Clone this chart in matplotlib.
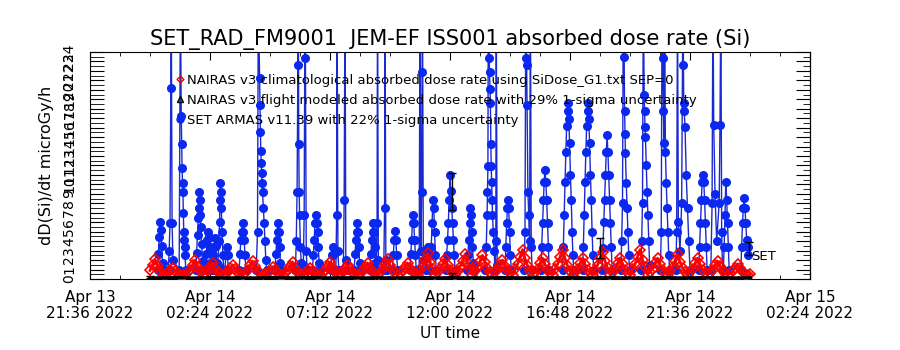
import matplotlib
matplotlib.use('Agg')
import matplotlib.pyplot as plt
from matplotlib.lines import Line2D
from matplotlib.ticker import MultipleLocator, FixedLocator
import numpy as np

plt.rcParams['font.family'] = ['DejaVu Sans']
narrow = ['Liberation Sans Narrow', 'DejaVu Sans Condensed', 'DejaVu Sans']

# x axis: minutes since 2022-04-14 00:00 UT
tick_min = [-144, 144, 432, 720, 1008, 1296, 1584]
tick_lbl = ['Apr 13\n21:36 2022', 'Apr 14\n02:24 2022', 'Apr 14\n07:12 2022',
            'Apr 14\n12:00 2022', 'Apr 14\n16:48 2022', 'Apr 14\n21:36 2022',
            'Apr 15\n02:24 2022']

# NAIRAS v3 climatological dose rate, one value every 6 min from 00:00
red_v = [0.9, 1.5,
         2.1, 1.37, 0.84, 0.4, 0.46, 0.6, 0.9,
         1.2, 0.84, 0.54, 0.4, 0.4, 0.4, 0.7, 1.0, 1.5,
         2.0, 1.3, 0.8, 0.4, 0.61, 0.85, 1.28,
         1.7, 1.19, 0.77, 0.53, 0.4, 0.55, 0.75, 1.13,
         1.5, 1.05, 0.68, 0.48, 0.4, 0.67, 0.95, 1.43,
         1.9, 1.33, 0.86, 0.58, 0.4, 0.49, 0.65, 0.98,
         1.3, 0.91, 0.59, 0.43, 0.4, 0.64, 0.9, 1.35,
         1.8, 1.17, 0.72, 0.4, 0.46, 0.6, 0.9,
         1.2, 0.84, 0.54, 0.4, 0.4, 0.64, 0.9, 1.35,
         1.8, 1.17, 0.72, 0.4, 0.55, 0.75, 1.13,
         1.5, 1.05, 0.68, 0.48, 0.4, 0.61, 0.85, 1.28,
         1.7, 1.19, 0.77, 0.53, 0.4, 0.73, 1.05, 1.58,
         2.1, 1.47, 0.95, 0.63, 0.4, 0.61, 0.85, 1.28,
         1.7, 1.19, 0.77, 0.53, 0.4, 0.91, 1.35, 2.03,
         2.7, 1.76, 1.08, 0.45, 0.73, 1.05, 1.58,
         2.1, 1.47, 0.95, 0.63, 0.4, 0.88, 1.3, 1.95,
         2.6, 1.69, 1.04, 0.45, 0.85, 1.25, 1.88,
         2.5, 1.75, 1.13, 0.73, 0.4, 0.7, 1.0, 1.5,
         2.0, 1.4, 0.9, 0.6, 0.4, 1.03, 1.55, 2.33,
         3.1, 2.17, 1.4, 0.88, 0.45, 0.76, 1.1, 1.65,
         2.2, 1.54, 0.99, 0.65, 0.4, 1.03, 1.55, 2.33,
         3.1, 2.17, 1.4, 0.88, 0.45, 0.76, 1.1, 1.65,
         2.2, 1.54, 0.99, 0.65, 0.4, 0.97, 1.45, 2.18,
         2.9, 1.89, 1.16, 0.45, 0.76, 1.1, 1.65,
         2.2, 1.54, 0.99, 0.65, 0.4, 1.03, 1.55, 2.33,
         3.1, 2.02, 1.24, 0.45, 0.76, 1.1, 1.65,
         2.2, 1.54, 0.99, 0.65, 0.4, 0.88, 1.3, 1.95,
         2.6, 1.82, 1.17, 0.75, 0.4, 0.76, 1.1, 1.65,
         2.2, 1.54, 0.99, 0.65, 0.4, 0.67, 0.95, 1.43,
         1.9, 1.33, 0.86, 0.58, 0.4, 0.58, 0.8, 1.2,
         1.6, 1.12, 0.72, 0.5, 0.4, 0.5]

# NAIRAS v3 flight modeled dose rate, one value every 30 min
blk_v = [0.12, 0.1, 0.14, 0.09, 0.11, 0.13, 0.1, 0.12, 0.09, 0.11,
         0.13, 0.1, 0.12, 0.14, 0.1, 0.11, 0.12, 0.09, 0.13, 0.11,
         0.1, 0.12, 0.14, 0.1, 0.13, 0.11, 0.12, 0.1, 0.14, 0.12,
         0.1, 0.13, 0.11, 0.12, 0.14, 0.1, 0.12, 0.13, 0.11, 0.1,
         0.12, 0.14, 0.11, 0.1, 0.13, 0.12, 0.11, 0.1, 0.12]

# SET ARMAS dose rate (minutes since 00:00, microGy/h)
blue_t = [18, 20, 22, 24, 26, 28, 30, 31,
          44, 46, 48, 50, 51, 53, 55,
          70, 73, 75, 76, 77, 78, 79, 80, 81, 82, 83, 84, 86,
          110, 112, 114, 116, 117, 118, 120, 121, 122, 124, 126, 128,
          133, 135, 137, 139, 141, 143, 145, 147,
          150, 152, 154, 156, 158, 160, 162,
          163, 165, 167, 168, 169, 170, 171, 173, 175, 177,
          180, 182, 184, 186, 188,
          214, 216, 218, 220, 222, 224, 226, 228, 230,
          255, 258, 260, 263, 264, 265, 266, 267, 268, 269, 270, 272, 274, 276, 278, 280,
          300, 302, 304, 306, 307, 309, 311, 313, 315,
          349, 351, 353, 355, 356, 357, 358, 359, 361, 363,
          368, 370, 372, 373, 375, 377,
          390, 392, 394, 396, 398, 400, 402, 404, 406, 408,
          434, 436, 438, 440, 442,
          446, 448, 449, 451, 453,
          464, 466, 468, 470, 472,
          490, 492, 494, 496, 497, 499, 501, 503, 505,
          528, 530, 532, 534, 535, 537, 539, 541, 543,
          545, 546, 548,
          561, 563, 564, 566, 568,
          582, 584, 586, 588, 590, 592, 594,
          624, 626, 628, 630, 631, 633, 635, 637, 639,
          646, 648, 650, 652, 653, 654, 656,
          663, 665, 667, 669, 671,
          673, 675, 677, 679, 681, 683, 685, 687,
          710, 712, 714, 716, 718, 720, 722, 724, 726, 728, 730, 732,
          761, 763, 765, 767, 768, 770, 772, 774, 776, 778,
          805, 807, 809, 810, 811, 812, 814, 815, 816, 817, 818, 819, 820, 821, 822, 824, 826, 828,
          830, 831, 833,
          852, 854, 856, 858, 859, 861, 863, 865, 867,
          898, 900, 902, 903, 904, 905, 907, 909, 911, 913, 915, 917,
          938, 940, 942, 944, 946, 948, 950, 952, 954, 956, 958,
          990, 992, 994, 996, 998, 1000, 1002, 1003, 1005, 1007, 1009, 1011, 1013, 1015, 1017,
          1038, 1040, 1042, 1044, 1046, 1048, 1050, 1051, 1053, 1055, 1057, 1059, 1061, 1063, 1065,
          1085, 1087, 1089, 1091, 1093, 1095, 1097, 1099, 1101, 1103, 1105, 1107, 1109,
          1130, 1132, 1134, 1136, 1138, 1139, 1140, 1141, 1143, 1145, 1147, 1149, 1151,
          1178, 1180, 1182, 1184, 1186, 1187, 1188, 1189, 1191, 1193, 1195, 1197, 1199,
          1225, 1227, 1229, 1231, 1232, 1234, 1235, 1237, 1239, 1241, 1243, 1245, 1247,
          1262, 1264, 1266, 1268, 1272, 1276, 1278, 1279, 1281, 1282, 1284, 1287, 1290, 1293, 1296,
          1317, 1319, 1321, 1323, 1325, 1327, 1329, 1331, 1333, 1335, 1337,
          1346, 1349, 1351, 1353, 1356, 1360, 1366, 1368, 1370, 1372, 1374,
          1376, 1378, 1380, 1382, 1384, 1386, 1388, 1390,
          1418, 1420, 1422, 1424, 1426, 1428, 1430, 1432, 1434, 1436]
blue_v = [0.9, 2.6, 4.4, 6.0, 5.2, 3.5, 1.7, 0.9,
          1.0, 3.0, 5.9, 20.2, 30, 5.9, 2.0,
          1.0, 30, 17.2, 14.3, 11.7, 10.1, 9.2, 7.0, 5.0, 4.1, 3.4, 2.5, 1.0,
          1.0, 2.8, 4.6, 6.5, 7.5, 9.2, 8.4, 6.8, 5.5, 3.7, 1.9, 0.9,
          1.0, 2.6, 4.1, 5.0, 4.4, 3.4, 1.7, 0.9,
          1.0, 2.5, 3.4, 4.3, 3.5, 1.7, 0.9,
          1.5, 4.0, 6.0, 8.4, 10.1, 9.2, 7.5, 5.0, 2.5, 1.0,
          1.0, 2.5, 3.4, 2.5, 1.0,
          1.0, 2.6, 4.1, 5.0, 5.9, 5.0, 4.1, 2.5, 1.0,
          1.0, 5.0, 30, 21.2, 18.4, 15.5, 13.5, 12.3, 11.2, 10.1, 9.2, 7.5, 5.9, 4.0, 2.0, 1.0,
          1.0, 2.6, 4.1, 5.0, 5.9, 5.0, 3.4, 1.7, 0.9,
          1.0, 4.0, 9.2, 22.6, 30, 14.3, 9.2, 6.8, 3.4, 1.7,
          1.5, 6.8, 30, 23.4, 3.0, 1.0,
          1.0, 2.5, 4.1, 5.9, 6.8, 5.9, 5.0, 3.4, 1.7, 0.9,
          1.0, 2.5, 3.4, 2.5, 1.0,
          1.0, 6.8, 30, 3.0, 1.0,
          1.0, 8.4, 30, 2.0, 1.0,
          1.0, 2.6, 4.1, 5.0, 5.9, 5.0, 3.4, 1.7, 0.9,
          1.0, 2.6, 4.1, 5.0, 5.9, 5.0, 3.4, 1.7, 0.9,
          5.9, 30, 2.0,
          1.0, 7.5, 30, 2.0, 1.0,
          1.0, 2.5, 4.1, 5.1, 4.1, 2.5, 1.0,
          1.0, 2.6, 4.1, 5.9, 6.8, 5.9, 4.1, 2.5, 1.0,
          1.0, 30, 3.0, 9.2, 21.9, 30, 2.0,
          1.0, 2.5, 3.4, 2.5, 1.0,
          1.0, 3.4, 5.9, 8.4, 7.5, 5.0, 2.5, 1.0,
          1.0, 2.5, 4.1, 5.9, 8.4, 11.0, 9.3, 7.5, 5.9, 4.1, 2.5, 1.0,
          1.0, 2.5, 4.1, 5.9, 7.5, 6.8, 5.0, 3.4, 1.7, 0.9,
          1.0, 3.4, 6.8, 9.2, 11.9, 30, 23.4, 21.9, 20.1, 18.6, 14.3, 11.9, 10.3, 8.4, 6.8, 5.0, 3.0, 1.0,
          4.0, 30, 1.5,
          1.0, 3.4, 5.9, 7.5, 8.4, 7.5, 5.0, 2.5, 1.0,
          1.0, 5.0, 30, 23.4, 22.6, 18.4, 9.2, 6.8, 4.0, 30, 3.4, 1.0,
          1.0, 3.4, 5.9, 8.4, 10.3, 11.5, 10.3, 8.4, 5.9, 3.4, 1.0,
          1.0, 3.4, 6.8, 10.3, 13.4, 16.2, 17.8, 18.6, 16.9, 14.4, 11.0, 8.4, 5.0, 2.5, 1.0,
          1.0, 3.4, 6.8, 10.3, 13.4, 16.2, 17.8, 18.6, 16.9, 14.4, 11.0, 8.4, 5.0, 2.5, 1.0,
          1.0, 3.3, 6.0, 8.4, 11.0, 13.4, 15.2, 13.4, 11.0, 8.4, 5.9, 3.4, 1.0,
          1.0, 4.0, 8.0, 30, 23.5, 17.8, 15.3, 13.3, 10.1, 7.5, 5.0, 2.5, 1.0,
          1.0, 4.0, 8.0, 30, 19.5, 17.8, 16.1, 15.0, 12.0, 9.2, 6.8, 4.0, 1.5,
          1.0, 5.0, 30, 23.4, 17.8, 14.4, 30, 13.4, 10.1, 7.5, 5.0, 2.5, 1.0,
          1.0, 5.0, 30, 6.0, 3.0, 8.0, 22.6, 30, 18.6, 17.8, 16.1, 11.0, 7.5, 4.0, 1.0,
          1.0, 3.4, 5.9, 8.4, 10.3, 11.0, 10.3, 8.4, 5.9, 3.4, 1.0,
          1.0, 8.0, 30, 16.3, 9.0, 4.0, 8.0, 16.3, 30, 5.0, 1.0,
          1.0, 3.4, 6.8, 10.3, 8.4, 5.9, 3.4, 1.0,
          1.0, 3.4, 5.9, 7.5, 8.6, 7.5, 5.9, 4.1, 3.4, 2.5]

# 1-sigma error bars
err_t = [724, 1080, 1437]
err_v = [9.25, 3.25, 3.2]
err_e = [1.95, 1.05, 0.7]
blk_err_t = [0, 724]
blk_err_v = [0.2, 0.5]
blk_err_e = [0.1, 0.15]

red_t = np.arange(len(red_v)) * 6
blk_t = np.arange(len(blk_v)) * 30

fig = plt.figure(figsize=(9, 3.5), dpi=100)
ax = fig.add_axes([0.1, 0.2029, 0.8, 0.6486])

ax.plot(blue_t, blue_v, color='#1a2ad0', lw=1, marker='o', ms=5.5,
        mfc='#0a28f0', mec='#0a28f0', zorder=2)
ax.plot(red_t, red_v, color='red', lw=2, marker='D', ms=5, mfc='none',
        mec='red', mew=1.2, zorder=3)
ax.plot(blk_t, blk_v, color='black', lw=2.5, marker='^', ms=3, mfc='none',
        mec='black', zorder=4)
ax.errorbar(err_t, err_v, yerr=err_e, fmt='none', ecolor='black', elinewidth=1,
            capsize=3, zorder=5)
ax.errorbar(blk_err_t, blk_err_v, yerr=blk_err_e, fmt='none', ecolor='black',
            elinewidth=1, capsize=3, zorder=5)
ax.text(1442, 2.4, 'SET', fontsize=9.5, ha='left', va='center')

ax.set_xlim(-144, 1584)
ax.set_ylim(0, 24)

ax.xaxis.set_major_locator(FixedLocator(tick_min))
ax.xaxis.set_minor_locator(MultipleLocator(72))
ax.set_xticklabels(tick_lbl, fontfamily=narrow, fontsize=11, linespacing=1.05)
ax.tick_params(axis='x', which='major', direction='in', length=6, top=True, pad=8)
ax.tick_params(axis='x', which='minor', direction='in', length=3, top=True)

ax.yaxis.set_major_locator(MultipleLocator(1))
ax.yaxis.set_minor_locator(MultipleLocator(0.5))
ax.tick_params(axis='y', which='both', direction='in', length=10, right=False, pad=10)
ax.tick_params(axis='y', which='major', labelrotation=90)
for lb in ax.get_yticklabels():
    lb.set_fontfamily(narrow)
    lb.set_fontsize(10)
    lb.set_va('center')
sec = ax.secondary_yaxis('right')
sec.yaxis.set_major_locator(MultipleLocator(1))
sec.yaxis.set_minor_locator(MultipleLocator(0.5))
sec.tick_params(which='major', direction='in', length=10, labelright=False)
sec.tick_params(which='minor', direction='in', length=5)

ax.set_title('SET_RAD_FM9001  JEM-EF ISS001 absorbed dose rate (Si)', fontsize=15, pad=5)
ax.set_xlabel('UT time', fontsize=11, fontfamily=narrow, labelpad=4)
ax.set_ylabel('dD(Si)/dt microGy/h', fontsize=11.5)
ax.yaxis.set_label_coords(-0.05, 0.5)

handles = [Line2D([], [], ls='none', marker='D', ms=3.5, mfc='none', mec='red'),
           Line2D([], [], ls='none', marker='^', ms=5, mfc='none', mec='black'),
           Line2D([], [], ls='none', marker='o', ms=5, mfc='#0a28f0', mec='#0a28f0')]
labels = ['NAIRAS v3 climatological absorbed dose rate using SiDose_G1.txt SEP=0',
          'NAIRAS v3 flight modeled absorbed dose rate with 29% 1-sigma uncertainty',
          'SET ARMAS v11.39 with 22% 1-sigma uncertainty']
ax.legend(handles, labels, loc='upper left', bbox_to_anchor=(0.12, 0.905),
          frameon=False, fontsize=9.5, handlelength=0.5, handletextpad=0.3,
          labelspacing=0.55, borderpad=0, borderaxespad=0)

fig.savefig('out.png', dpi=100)
